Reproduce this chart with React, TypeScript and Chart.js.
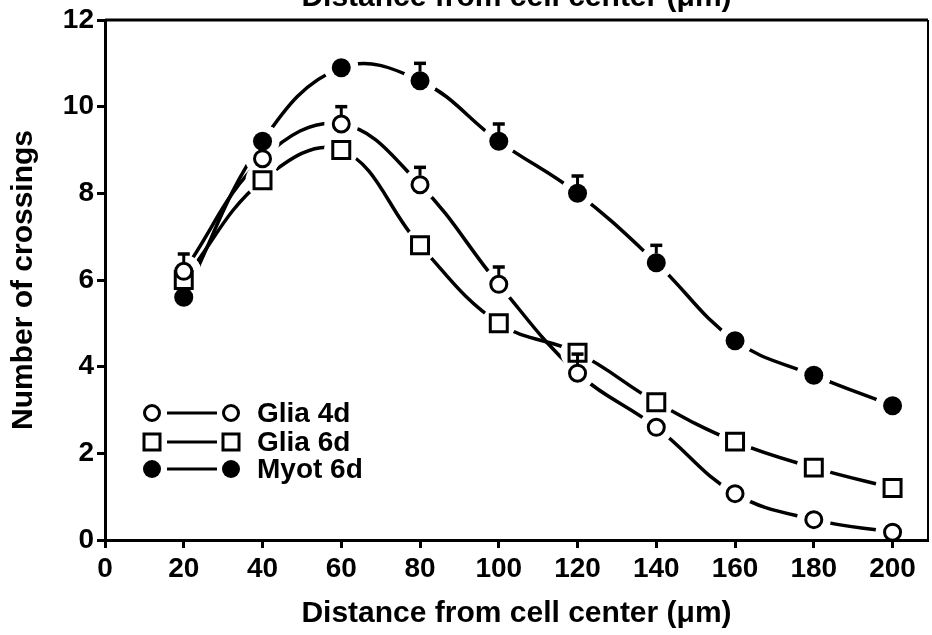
import React, { useEffect, useRef } from 'react';
import { Chart, registerables } from 'chart.js';

Chart.register(...registerables);

// ---- data ----
const distances = [20, 40, 60, 80, 100, 120, 140, 160, 180, 200];
const seriesLabels = ['Glia 4d', 'Glia 6d', 'Myot 6d'];
const glia4d = [6.2, 8.8, 9.6, 8.2, 5.9, 3.85, 2.6, 1.07, 0.47, 0.18];
const glia4dErr = [0.4, null, 0.4, 0.4, 0.4, 0.44, null, null, null, null];
const glia6d = [6.0, 8.3, 9.0, 6.8, 5.0, 4.32, 3.18, 2.27, 1.67, 1.2];
const glia6dErr = [null, null, null, null, null, null, null, null, null, null];
const myot6d = [5.6, 9.2, 10.9, 10.6, 9.2, 8.0, 6.4, 4.6, 3.8, 3.1];
const myot6dErr = [null, null, null, 0.4, 0.4, 0.4, 0.4, null, null, null];
const xTitle = 'Distance from cell center (μm)';
const yTitle = 'Number of crossings';

const FONT = '"Liberation Sans", Arial, Helvetica, sans-serif';

type Kind = 'openCircle' | 'openSquare' | 'filledCircle';
const kinds: Kind[] = ['openCircle', 'openSquare', 'filledCircle'];
const values = [glia4d, glia6d, myot6d];
const errors = [glia4dErr, glia6dErr, myot6dErr];

function drawLegendMarker(ctx: CanvasRenderingContext2D, kind: Kind, x: number, y: number) {
  ctx.save();
  ctx.lineWidth = 3;
  ctx.strokeStyle = '#000';
  if (kind === 'openCircle') {
    ctx.beginPath();
    ctx.arc(x, y, 7.5, 0, Math.PI * 2);
    ctx.fillStyle = '#fff';
    ctx.fill();
    ctx.stroke();
  } else if (kind === 'openSquare') {
    const h = 8;
    ctx.fillStyle = '#fff';
    ctx.fillRect(x - h, y - h, 2 * h, 2 * h);
    ctx.strokeRect(x - h, y - h, 2 * h, 2 * h);
  } else {
    ctx.beginPath();
    ctx.arc(x, y, 9, 0, Math.PI * 2);
    ctx.fillStyle = '#000';
    ctx.fill();
  }
  ctx.restore();
}

export default function App() {
  const ref = useRef<HTMLCanvasElement>(null);

  useEffect(() => {
    const HALO = 17;

    // white gaps round every data point, painted after each curve is drawn
    const haloPlugin = {
      id: 'halos',
      afterDatasetDraw(chart: any, args: any) {
        const ds = chart.data.datasets[args.index];
        if (!ds || !ds.isCurve) return;
        const { ctx, chartArea: a } = chart;
        ctx.save();
        ctx.beginPath();
        ctx.rect(a.left + 2, a.top + 2, a.right - a.left - 3, a.bottom - a.top - 4);
        ctx.clip();
        ctx.fillStyle = '#ffffff';
        chart.data.datasets.forEach((d: any, di: number) => {
          if (!d.isCurve) return;
          const meta = chart.getDatasetMeta(di);
          meta.data.forEach((pt: any) => {
            ctx.beginPath();
            ctx.arc(pt.x, pt.y, HALO, 0, Math.PI * 2);
            ctx.fill();
          });
        });
        ctx.restore();
      },
    };

    const framePlugin = {
      id: 'frame',
      afterDatasetsDraw(chart: any) {
        const { ctx, chartArea: a } = chart;
        ctx.save();
        ctx.strokeStyle = '#000';
        ctx.lineWidth = 3;
        ctx.beginPath();
        ctx.moveTo(a.left, a.top);
        ctx.lineTo(a.right, a.top);
        ctx.stroke();
        ctx.lineWidth = 2;
        ctx.beginPath();
        ctx.moveTo(a.right, a.top);
        ctx.lineTo(a.right, a.bottom);
        ctx.stroke();
        ctx.restore();
      },
    };

    const errorPlugin = {
      id: 'errorBars',
      afterDatasetsDraw(chart: any) {
        const { ctx } = chart;
        const xs = chart.scales.x;
        const ys = chart.scales.y;
        ctx.save();
        ctx.strokeStyle = '#000';
        ctx.lineCap = 'butt';
        errors.forEach((errs, si) => {
          errs.forEach((e, i) => {
            if (e == null) return;
            const v = values[si][i];
            const px = xs.getPixelForValue(distances[i]);
            const py = ys.getPixelForValue(v);
            const pt = ys.getPixelForValue(v + e);
            ctx.lineWidth = 3;
            ctx.beginPath();
            ctx.moveTo(px, py - 9);
            ctx.lineTo(px, pt);
            ctx.stroke();
            ctx.lineWidth = 3.5;
            ctx.beginPath();
            ctx.moveTo(px - 6, pt);
            ctx.lineTo(px + 6, pt);
            ctx.stroke();
          });
        });
        ctx.restore();
      },
    };

    const legendPlugin = {
      id: 'customLegend',
      afterDraw(chart: any) {
        const { ctx, chartArea: a } = chart;
        const rowsY = [393, 422, 449];
        ctx.save();
        seriesLabels.forEach((label, i) => {
          const y = a.top + rowsY[i];
          const x1 = a.left + 47;
          const x2 = a.left + 126;
          ctx.strokeStyle = '#000';
          ctx.lineWidth = 3;
          ctx.beginPath();
          ctx.moveTo(a.left + 62, y);
          ctx.lineTo(a.left + 112, y);
          ctx.stroke();
          drawLegendMarker(ctx, kinds[i], x1, y);
          drawLegendMarker(ctx, kinds[i], x2, y);
          ctx.fillStyle = '#000';
          ctx.font = `bold 28px ${FONT}`;
          ctx.textAlign = 'left';
          ctx.textBaseline = 'middle';
          ctx.fillText(label, a.left + 152, y + 1);
        });
        ctx.restore();
      },
    };

    const toPts = (arr: number[]) => arr.map((y, i) => ({ x: distances[i], y }));

    const markerSets: any[] = [];
    const lineSets: any[] = [];
    values.forEach((arr, si) => {
      const kind = kinds[si];
      markerSets.push({
        label: seriesLabels[si],
        data: toPts(arr),
        showLine: false,
        pointStyle: kind === 'openSquare' ? 'rect' : 'circle',
        pointRadius: kind === 'openSquare' ? 12 : kind === 'openCircle' ? 8 : 9.5,
        pointBackgroundColor: kind === 'filledCircle' ? '#000' : '#fff',
        pointBorderColor: '#000',
        pointBorderWidth: kind === 'filledCircle' ? 0 : 3,
        borderColor: '#000',
        borderWidth: 3,
        order: 1,
      });
      lineSets.push({
        label: seriesLabels[si] + ' curve',
        isCurve: true,
        data: toPts(arr),
        showLine: true,
        borderColor: '#000',
        borderWidth: 3.5,
        tension: 0.4,
        pointRadius: 0,
        fill: false,
        order: 2,
      });
    });

    const chart = new Chart(ref.current as HTMLCanvasElement, {
      type: 'line',
      data: { datasets: [...markerSets, ...lineSets] },
      options: {
        animation: false,
        responsive: false,
        events: [],
        layout: { autoPadding: false, padding: { left: 0, right: 4, top: 0, bottom: 0 } },
        plugins: {
          legend: { display: false },
          tooltip: { enabled: false },
          title: {
            display: true,
            fullSize: false,
            text: xTitle,
            color: '#000',
            font: { family: FONT, size: 30, weight: 'bold' },
            padding: { top: 20, bottom: 4 },
          },
        },
        scales: {
          x: {
            type: 'linear',
            min: 0,
            max: 209,
            afterFit: (s: any) => {
              s.height = 95;
              s.paddingLeft = 0;
              s.paddingRight = 0;
            },
            ticks: {
              stepSize: 20,
              includeBounds: false,
              color: '#000',
              padding: 4,
              font: { family: FONT, size: 28, weight: 'bold' },
            },
            grid: {
              display: true,
              drawOnChartArea: false,
              drawTicks: true,
              tickLength: 8,
              tickWidth: 3,
              tickColor: '#000',
            },
            border: { display: true, color: '#000', width: 3 },
            title: {
              display: true,
              text: xTitle,
              color: '#000',
              font: { family: FONT, size: 30, weight: 'bold' },
              padding: { top: 0, bottom: 3 },
            },
          },
          y: {
            type: 'linear',
            min: 0,
            max: 12,
            afterFit: (s: any) => {
              s.width = 105;
            },
            ticks: {
              stepSize: 2,
              color: '#000',
              padding: 3,
              font: { family: FONT, size: 28, weight: 'bold' },
            },
            grid: {
              display: true,
              drawOnChartArea: false,
              drawTicks: true,
              tickLength: 8,
              tickWidth: 3,
              tickColor: '#000',
            },
            border: { display: true, color: '#000', width: 3 },
            title: {
              display: true,
              text: yTitle,
              color: '#000',
              font: { family: FONT, size: 30, weight: 'bold' },
              padding: { top: 6, bottom: 0 },
            },
          },
        },
      } as any,
      plugins: [haloPlugin, framePlugin, errorPlugin, legendPlugin],
    });

    return () => chart.destroy();
  }, []);

  return (
    <div style={{ position: 'absolute', left: 0, top: -40, width: 932, height: 675 }}>
      <canvas ref={ref} width={932} height={675} style={{ display: 'block' }} />
    </div>
  );
}
